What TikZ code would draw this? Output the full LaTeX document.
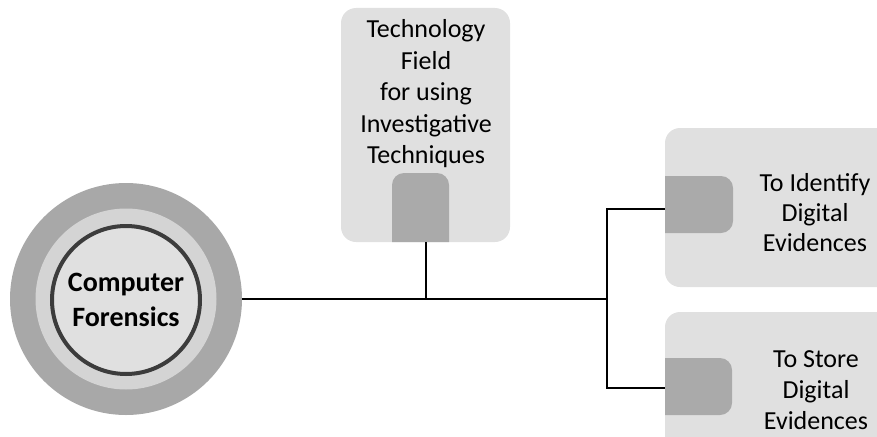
\documentclass[tikz,border=0pt]{standalone}
\usepackage{fontspec}
\setmainfont{Carlito}
\definecolor{panelgray}{HTML}{E0E0E0}
\definecolor{tabgray}{HTML}{AAAAAA}
\definecolor{outergray}{HTML}{A8A8A8}
\definecolor{midgray}{HTML}{D4D4D4}
\definecolor{ringdark}{HTML}{3C3C3C}
\tikzset{
  panel/.style={fill=panelgray, rounded corners=15pt, inner sep=0pt},
  tab/.style={fill=tabgray},
  label/.style={align=center, font=\fontsize{26}{30}\selectfont, text=black, inner sep=0pt},
  link/.style={line width=2pt, black}
}
\begin{document}
\begin{tikzpicture}[x=1pt,y=-1pt]
\useasboundingbox (0,0) rectangle (877,436);
\clip (0,0) rectangle (877,436);

% central disc with its rings
\node[circle, fill=outergray, minimum size=232pt, inner sep=0pt] (outer) at (126,299) {};
\node[circle, fill=midgray, minimum size=181pt, inner sep=0pt] (mid) at (126,299) {};
\node[circle, fill=panelgray, draw=ringdark, line width=4pt, minimum size=148pt, inner sep=0pt,
      align=center, font=\bfseries\fontsize{28}{35}\selectfont] (cf) at (126,300) {Computer\\Forensics};

% top panel with its tab (rounded on top only)
\path[panel] (341,8) rectangle (510,242);
\path[tab] (392,242) {[rounded corners=12pt] -- (392,173) -- (449,173)} -- (449,242) -- cycle;
\node[label, font=\fontsize{26}{31.5}\selectfont] (toptext) at (426,94) {Technology\\Field\\for using\\Investigative\\Techniques};
\coordinate (topfoot) at (426,242);

% right panels with their tabs (rounded on the right only)
\path[panel] (665,128) rectangle (900,287);
\path[tab] (665,176) {[rounded corners=12pt] -- (733,176) -- (733,233)} -- (665,233) -- cycle;
\node[label] (idtext) at (815,213) {To Identify\\Digital\\Evidences};
\coordinate (idport) at (665,209);

\path[panel] (665,312) rectangle (900,470);
\path[tab] (665,358) {[rounded corners=12pt] -- (732,358) -- (732,415)} -- (665,415) -- cycle;
\node[label, font=\fontsize{26}{31}\selectfont] (sttext) at (816,390) {To Store\\Digital\\Evidences};
\coordinate (stport) at (665,388);

% connectors
\coordinate (hub) at (426,299);
\coordinate (fork) at (607,299);
\draw[link] (outer.east) -- (fork);
\draw[link] (topfoot) -- (hub);
\draw[link] (idport) -| (fork) |- (stport);
\end{tikzpicture}
\end{document}
